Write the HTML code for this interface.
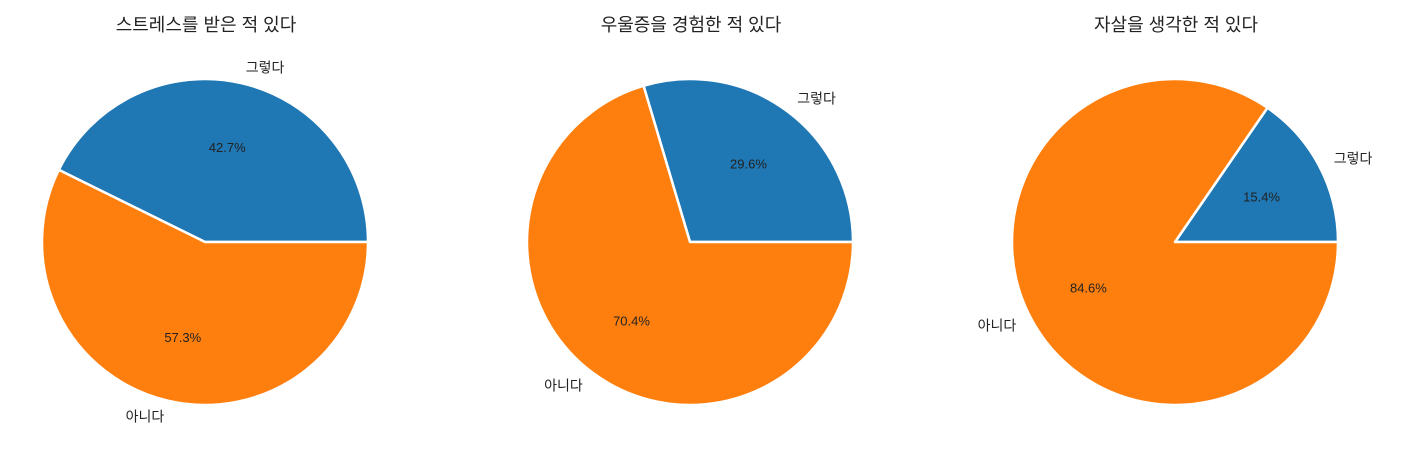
<!DOCTYPE html>
<html><head><meta charset="utf-8">
<style>
html,body{margin:0;padding:0;background:#fff;}
svg{display:block;font-family:"Liberation Sans","Noto Sans CJK KR",sans-serif;}
</style></head>
<body>
<svg id="chart" width="1412" height="458"></svg>
<script>
const titles = ["스트레스를 받은 적 있다","우울증을 경험한 적 있다","자살을 생각한 적 있다"];
const categories = ["그렇다","아니다"];
const yesValues = [42.7, 29.6, 15.4];
const noValues = [57.3, 70.4, 84.6];
const colors = ["#1f77b4","#ff7f0e"];
const centersX = [205, 690, 1175];
const cy = 242, R = 163;
const svg = document.getElementById('chart');
const NS = "http://www.w3.org/2000/svg";
function mk(tag, attrs){const e=document.createElementNS(NS,tag);for(const k in attrs)e.setAttribute(k,attrs[k]);return e;}
function pt(cx,a,r){return [cx+r*Math.cos(a), cy-r*Math.sin(a)];}
titles.forEach((t,i)=>{
  const cx=centersX[i];
  const g=mk('g',{});
  
  
  svg.appendChild(g);
  const title=mk('text',{x:cx+1,y:31,'text-anchor':'middle','font-size':18,fill:'#222'});
  title.textContent=t;
  
  
  g.appendChild(title);
  const vals=[yesValues[i],noValues[i]];
  const total=vals[0]+vals[1];
  let start=0;
  vals.forEach((v,j)=>{
    const sweep=v/total*2*Math.PI;
    const end=start+sweep;
    const p0=pt(cx,start,R), p1=pt(cx,end,R);
    const large=sweep>Math.PI?1:0;
    const path=mk('path',{d:`M${cx},${cy} L${p0[0]},${p0[1]} A${R},${R} 0 ${large} 0 ${p1[0]},${p1[1]} Z`,fill:colors[j],stroke:'#fff','stroke-width':2.5,'stroke-linejoin':'round'});
    
    
    g.appendChild(path);
    const mid=start+sweep/2;
    const lp=pt(cx,mid,R*1.1);
    const lab=mk('text',{x:lp[0],y:lp[1]+5,'text-anchor':Math.cos(mid)>=0?'start':'end','font-size':14,fill:'#222'});
    lab.textContent=categories[j];
    
    
    g.appendChild(lab);
    const pp=pt(cx,mid,R*0.6);
    const pct=mk('text',{x:pp[0],y:pp[1]+5,'text-anchor':'middle','font-size':13,fill:'#222'});
    pct.textContent=v.toFixed(1)+'%';
    
    
    g.appendChild(pct);
    start=end;
  });
});
</script>
</body></html>
